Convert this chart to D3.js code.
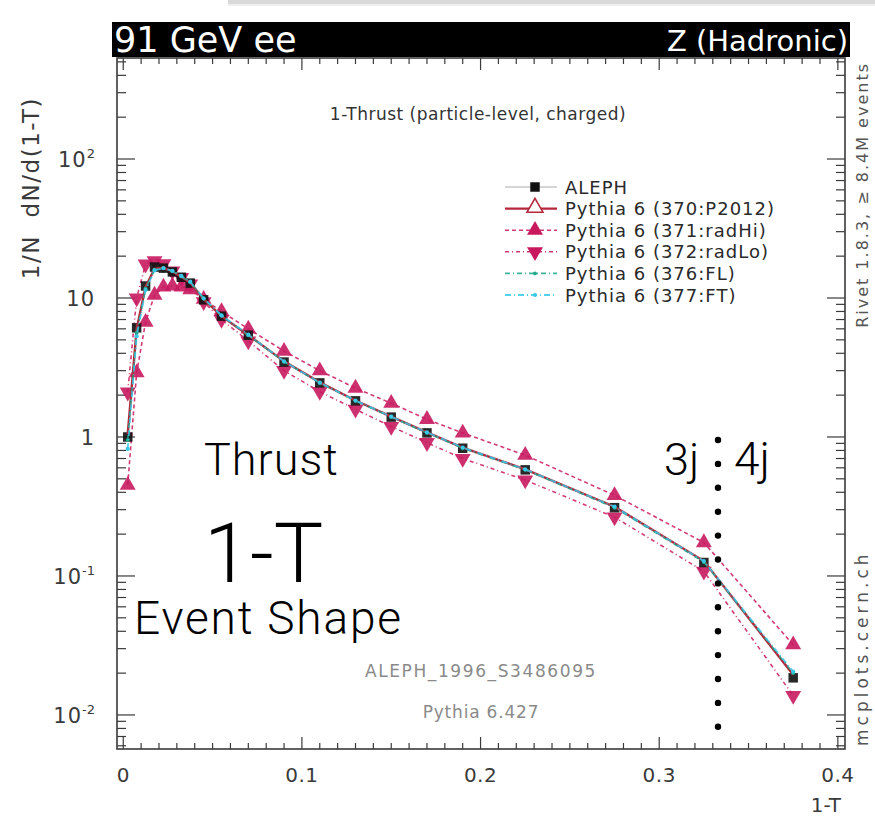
<!DOCTYPE html>
<html>
<head>
<meta charset="utf-8">
<script src="https://cdn.jsdelivr.net/npm/d3@7"></script>
<style>
  html, body { margin: 0; padding: 0; background: #fff; }
  svg { display: block; }
</style>
</head>
<body>
<svg id="chart" width="875" height="820"></svg>
<script>
// 1-T bin centres (ALEPH thrust binning)
const binCenters = [0.0025, 0.0075, 0.0125, 0.0175, 0.0225, 0.0275, 0.0325, 0.0375,
  0.045, 0.055, 0.07, 0.09, 0.11, 0.13, 0.15, 0.17, 0.19, 0.225, 0.275, 0.325, 0.375];

// 1/N dN/d(1-T)
const aleph  = [1.0, 6.1, 12.2, 16.7, 16.4, 15.4, 14.1, 12.8, 9.7, 7.4, 5.4, 3.46, 2.45, 1.82, 1.39, 1.07, 0.83, 0.58, 0.31, 0.125, 0.0185];
const p2012  = [1.05, 6.0, 12.0, 16.2, 16.5, 15.5, 14.2, 12.9, 9.8, 7.4, 5.4, 3.5, 2.47, 1.83, 1.40, 1.08, 0.84, 0.585, 0.315, 0.128, 0.0195];
const radHi  = [0.45, 2.9, 6.7, 10.5, 12.0, 12.2, 12.0, 11.5, 9.8, 8.0, 6.0, 4.15, 3.0, 2.25, 1.75, 1.34, 1.07, 0.74, 0.38, 0.174, 0.032];
const radLo  = [2.1, 10.0, 17.5, 18.5, 17.6, 15.6, 14.0, 12.6, 9.4, 7.0, 4.9, 3.0, 2.12, 1.58, 1.19, 0.91, 0.70, 0.49, 0.265, 0.108, 0.0138];
const fl     = [0.95, 5.6, 11.7, 16.0, 16.4, 15.6, 14.3, 13.0, 9.9, 7.45, 5.4, 3.48, 2.45, 1.82, 1.39, 1.07, 0.83, 0.58, 0.31, 0.126, 0.020];
const ft     = [0.82, 5.3, 11.4, 15.8, 16.4, 15.7, 14.4, 13.1, 9.95, 7.5, 5.45, 3.5, 2.46, 1.83, 1.40, 1.08, 0.84, 0.585, 0.315, 0.128, 0.0205];

const xTicks = [0, 0.1, 0.2, 0.3, 0.4];
const xTickLabels = ["0", "0.1", "0.2", "0.3", "0.4"];
const yDecades = [0.01, 0.1, 1, 10, 100];
const yTickLabels = [["10", "-2"], ["10", "-1"], ["1", ""], ["10", ""], ["10", "2"]];

const legendLabels = ["ALEPH", "Pythia 6 (370:P2012)", "Pythia 6 (371:radHi)",
  "Pythia 6 (372:radLo)", "Pythia 6 (376:FL)", "Pythia 6 (377:FT)"];

const C = {
  data: "#111", p2012: "#b5283b", rad: "#c8195f", fl: "#1fa88a", ft: "#38c8e8",
  axis: "#3a3a3a", text: "#3a3a3a"
};
const FONT = "'DejaVu Sans', Verdana, sans-serif";
const LIGHT = "Roboto, Lato, 'Open Sans', sans-serif";

const svg = d3.select("#chart");

// frame geometry
const fx0 = 117, fx1 = 845, fy0 = 58, fy1 = 749;

const x = d3.scaleLinear().domain([-0.0035, 0.404]).range([fx0, fx1]);
const y = d3.scaleLog().domain([0.00569, 533]).range([fy1, fy0]);

function label(sel, px, spacing) {
  return sel.style("font-family", FONT).style("font-size", px + "px")
    .style("letter-spacing", (spacing || 0) + "px");
}

// faint strip along the very top
svg.append("rect").attr("x", 228).attr("y", 0).attr("width", 647).attr("height", 4).attr("fill", "#d9d9d9");
svg.append("rect").attr("x", 228).attr("y", 4).attr("width", 647).attr("height", 2).attr("fill", "#efefef");

// header bar
svg.append("rect").attr("x", 112).attr("y", 22).attr("width", 738).attr("height", 35).attr("fill", "#000");
label(svg.append("text").attr("x", 114).attr("y", 52).attr("fill", "#fff"), 35, 0).text("91 GeV ee");
label(svg.append("text").attr("x", 848).attr("y", 51).attr("fill", "#fff").attr("text-anchor", "end"), 29, 0)
  .text("Z (Hadronic)");

// ticks on all four sides
const axisG = svg.append("g").attr("stroke", C.axis);
const xMinor = d3.range(0, 41).map(i => i / 100);
xMinor.forEach(v => {
  const major = Math.abs(v * 10 - Math.round(v * 10)) < 1e-9;
  const len = major ? 12 : 6;
  axisG.append("line").attr("x1", x(v)).attr("x2", x(v)).attr("y1", fy1).attr("y2", fy1 - len).attr("stroke-width", 1.2);
  axisG.append("line").attr("x1", x(v)).attr("x2", x(v)).attr("y1", fy0).attr("y2", fy0 + len).attr("stroke-width", 1.2);
});
const yMinor = [];
[0.001, 0.01, 0.1, 1, 10, 100].forEach(d => {
  for (let k = 1; k <= 9; k++) {
    const v = d * k;
    if (v >= y.domain()[0] && v <= y.domain()[1]) yMinor.push({ v, major: k === 1 });
  }
});
yMinor.forEach(t => {
  const len = t.major ? 18 : 9;
  axisG.append("line").attr("x1", fx0).attr("x2", fx0 + len).attr("y1", y(t.v)).attr("y2", y(t.v)).attr("stroke-width", 1.2);
  axisG.append("line").attr("x1", fx1).attr("x2", fx1 - len).attr("y1", y(t.v)).attr("y2", y(t.v)).attr("stroke-width", 1.2);
});
svg.append("rect").attr("x", fx0).attr("y", fy0).attr("width", fx1 - fx0).attr("height", fy1 - fy0)
  .attr("fill", "none").attr("stroke", C.axis).attr("stroke-width", 1.6);

// tick labels
xTicks.forEach((v, i) => {
  label(svg.append("text").attr("x", x(v)).attr("y", 782).attr("text-anchor", "middle").attr("fill", C.text), 20, 0.5)
    .text(xTickLabels[i]);
});
yDecades.forEach((v, i) => {
  const [base, exp] = yTickLabels[i];
  const t = label(svg.append("text").attr("x", 95).attr("y", y(v) + 8).attr("text-anchor", "end").attr("fill", C.text), 21, 1);
  t.append("tspan").text(base);
  if (exp) t.append("tspan").attr("dy", -9).style("font-size", "13px").style("letter-spacing", "0px").text(exp);
});

// axis titles
label(svg.append("text").attr("x", 841).attr("y", 812).attr("text-anchor", "end").attr("fill", C.text), 20, 0)
  .text("1-T");
label(svg.append("text").attr("transform", "translate(39,97) rotate(-90)").attr("text-anchor", "end").attr("fill", C.text), 23, 1.5)
  .attr("xml:space", "preserve").text("1/N  dN/d(1-T)");

// side labels
label(svg.append("text").attr("transform", "translate(868,62) rotate(-90)").attr("text-anchor", "end").attr("fill", "#555"), 16, 2)
  .text("Rivet 1.8.3, \u2265 8.4M events");
label(svg.append("text").attr("transform", "translate(868,746) rotate(-90)").attr("text-anchor", "start").attr("fill", "#555"), 17, 4)
  .text("mcplots.cern.ch");

// plot title and footer notes
label(svg.append("text").attr("x", 478).attr("y", 120).attr("text-anchor", "middle").attr("fill", "#333"), 17, 0.5)
  .text("1-Thrust (particle-level, charged)");
label(svg.append("text").attr("x", 481).attr("y", 677).attr("text-anchor", "middle").attr("fill", "#8a8a8a"), 17, 1.6)
  .text("ALEPH_1996_S3486095");
label(svg.append("text").attr("x", 481).attr("y", 718).attr("text-anchor", "middle").attr("fill", "#8a8a8a"), 17, 0.8)
  .text("Pythia 6.427");

// series
const series = [
  { vals: radHi, color: C.rad, width: 1.6, dash: "4,3", marker: "triUp", size: 110 },
  { vals: radLo, color: C.rad, width: 1.6, dash: "4,3,1,3", marker: "triDown", size: 110 },
  { vals: aleph, color: C.data, width: 0, dash: null, marker: "square", size: 90 },
  { vals: p2012, color: C.p2012, width: 2.4, dash: null, marker: null, size: 0 },
  { vals: fl, color: C.fl, width: 1.6, dash: "5,3,1,3", marker: "dot", size: 12 },
  { vals: ft, color: C.ft, width: 1.8, dash: "6,3,1,3", marker: "dot", size: 14 }
];
const line = d3.line().x((d, i) => x(binCenters[i])).y(d => y(d));
const symbolOf = {
  triUp: d3.symbolTriangle, triDown: d3.symbolTriangle, square: d3.symbolSquare, dot: d3.symbolCircle
};
const plotG = svg.append("g");
series.forEach(s => {
  if (s.width > 0) {
    plotG.append("path").datum(s.vals).attr("d", line).attr("fill", "none")
      .attr("stroke", s.color).attr("stroke-width", s.width)
      .attr("stroke-dasharray", s.dash).attr("opacity", s.dash ? 0.85 : 1);
  }
  if (s.marker) {
    const sym = d3.symbol().type(symbolOf[s.marker]).size(s.size);
    plotG.selectAll(null).data(s.vals).enter().append("path")
      .attr("d", sym)
      .attr("transform", (d, i) => `translate(${x(binCenters[i])},${y(d)})${s.marker === "triDown" ? " rotate(180)" : ""}`)
      .attr("fill", s.color).attr("opacity", s.marker === "dot" ? 1 : 0.9);
  }
});

// legend
const legX0 = 505, legX1 = 557, legMX = 535, legTX = 565, legY0 = 187, legDY = 21.6;
const legG = svg.append("g");
const legendOrder = [2, 3, 0, 1, 4, 5];
legendOrder.forEach((si, row) => {
  const s = series[si];
  const ly = legY0 + row * legDY;
  if (si === 2) {
    legG.append("line").attr("x1", legX0).attr("x2", legX1).attr("y1", ly).attr("y2", ly)
      .attr("stroke", "#aaa").attr("stroke-width", 1);
  } else {
    legG.append("line").attr("x1", legX0).attr("x2", legX1).attr("y1", ly).attr("y2", ly)
      .attr("stroke", s.color).attr("stroke-width", s.width).attr("stroke-dasharray", s.dash)
      .attr("opacity", s.dash ? 0.85 : 1);
  }
  if (si === 3) {
    legG.append("path").attr("d", d3.symbol().type(d3.symbolTriangle).size(110))
      .attr("transform", `translate(${legMX},${ly - 1})`).attr("fill", "#fff")
      .attr("stroke", s.color).attr("stroke-width", 1.6);
  } else if (s.marker) {
    legG.append("path").attr("d", d3.symbol().type(symbolOf[s.marker]).size(s.size))
      .attr("transform", `translate(${legMX},${ly})${s.marker === "triDown" ? " rotate(180)" : ""}`)
      .attr("fill", s.color);
  }
  label(legG.append("text").attr("x", legTX).attr("y", ly + 6.5).attr("fill", "#2a2a2a"), 18, 1)
    .text(legendLabels[row]);
});

// overlaid annotations
const ann = svg.append("g").attr("fill", "#000").style("font-family", LIGHT).style("font-weight", 300);
ann.append("text").attr("x", 204).attr("y", 475).style("font-size", "45px").style("letter-spacing", "1px").text("Thrust");
ann.append("text").attr("x", 204).attr("y", 582).style("font-size", "83px").text("1-T");
ann.append("text").attr("x", 134).attr("y", 634).style("font-size", "46px").style("letter-spacing", "1.8px").text("Event Shape");
ann.append("text").attr("x", 664).attr("y", 475).style("font-size", "45px").text("3j");
ann.append("text").attr("x", 734).attr("y", 475).style("font-size", "46px").text("4j");

// dotted divider between 3-jet and 4-jet regions
const dotYs = d3.range(13).map(k => 440 + k * 23.9);
svg.append("g").selectAll("circle").data(dotYs).enter().append("circle")
  .attr("cx", 718).attr("cy", d => d).attr("r", 3.2).attr("fill", "#000");
</script>
</body>
</html>
